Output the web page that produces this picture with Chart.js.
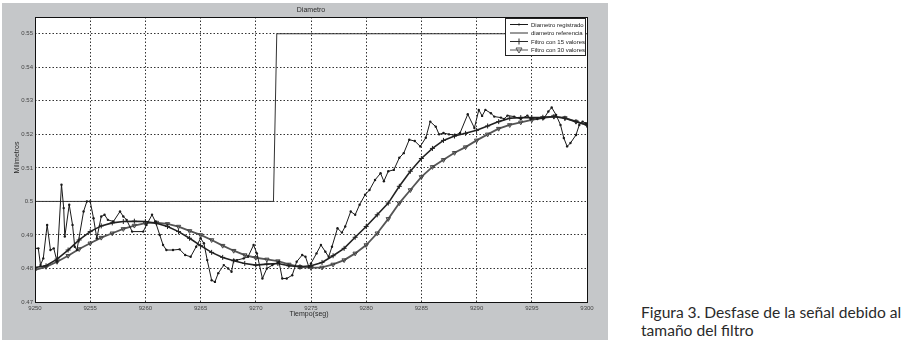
<!DOCTYPE html>
<html>
<head>
<meta charset="utf-8">
<script src="https://cdn.jsdelivr.net/npm/chart.js@4"></script>
<style>
  html, body { margin: 0; padding: 0; background: #fff; }
  #panel { position: absolute; left: 2px; top: 3px; width: 606px; height: 337px; background: #c5c7c9; }
  #caption { position: absolute; left: 641px; top: 303px; font-family: Lato, "Open Sans", sans-serif; font-size: 15.6px; line-height: 18px; color: #2a2a2a; }
</style>
</head>
<body>
<div id="panel"><canvas id="grafico" width="606" height="337"></canvas></div>
<div id="caption">Figura 3. Desfase de la señal debido al<br>tamaño del filtro</div>
<script>
// ✅ datos
const tiempoRegistrado = [
  9250.0, 9250.3, 9250.5, 9250.75, 9251.1, 9251.4, 9251.7, 9252.0, 9252.4, 9252.6,
  9252.7, 9253.1, 9253.4, 9253.6, 9253.8, 9254.4, 9254.7, 9255.0, 9255.3, 9255.6,
  9256.0, 9256.3, 9256.6, 9257.1, 9257.7, 9258.0, 9258.3, 9258.8, 9259.8, 9260.1,
  9260.6, 9260.9, 9261.3, 9261.6, 9261.9, 9262.5, 9263.1, 9263.6, 9264.1, 9264.6,
  9265.0, 9265.3, 9265.6, 9266.0, 9266.3, 9266.6, 9267.1, 9267.5, 9267.8, 9268.0,
  9268.3, 9268.9, 9269.3, 9269.8, 9270.1, 9270.6, 9271.0, 9271.5, 9272.1, 9272.4,
  9272.8, 9273.3, 9273.7, 9274.2, 9274.5, 9274.8, 9275.0, 9275.5, 9275.9, 9276.3,
  9276.6, 9276.9, 9277.4, 9277.8, 9278.1, 9278.6, 9279.0, 9279.4, 9279.9, 9280.3,
  9280.8, 9281.3, 9281.6, 9282.0, 9282.5, 9283.0, 9283.4, 9283.9, 9284.4, 9284.9,
  9285.4, 9285.8, 9286.3, 9286.6, 9287.0, 9287.5, 9288.1, 9288.5, 9289.2, 9289.8,
  9290.2, 9290.5, 9290.8, 9291.3, 9291.6, 9292.2, 9292.5, 9292.8, 9293.4, 9294.0,
  9294.6, 9294.9, 9295.5, 9296.1, 9296.5, 9296.8, 9297.2, 9297.6, 9297.9, 9298.2,
  9298.5, 9299.0, 9299.3, 9299.6, 9299.9, 9300.0
];
const diametroRegistrado = [
  0.4860, 0.4860, 0.4810, 0.4830, 0.4930, 0.4855, 0.4860, 0.4820, 0.5050, 0.4980,
  0.4895, 0.4990, 0.4930, 0.4865, 0.4855, 0.4970, 0.5000, 0.5000, 0.4950, 0.4890,
  0.4955, 0.4960, 0.4945, 0.4940, 0.4970, 0.4955, 0.4945, 0.4910, 0.4910, 0.4930,
  0.4960, 0.4940, 0.4900, 0.4870, 0.4855, 0.4855, 0.4857, 0.4840, 0.4835, 0.4865,
  0.4890, 0.4875, 0.4825, 0.4765, 0.4760, 0.4786, 0.4810, 0.4800, 0.4790, 0.4825,
  0.4825, 0.4830, 0.4835, 0.4870, 0.4845, 0.4770, 0.4800, 0.4810, 0.4820, 0.4770,
  0.4770, 0.4780, 0.4820, 0.4840, 0.4835, 0.4805, 0.4815, 0.4845, 0.4870, 0.4850,
  0.4835, 0.4865, 0.4920, 0.4907, 0.4925, 0.4970, 0.4960, 0.4990, 0.5020, 0.5034,
  0.5064, 0.5084, 0.5060, 0.5090, 0.5094, 0.5130, 0.5144, 0.5184, 0.5180, 0.5164,
  0.5190, 0.5238, 0.5223, 0.5200, 0.5204, 0.5200, 0.5198, 0.5204, 0.5260, 0.5219,
  0.5273, 0.5255, 0.5273, 0.5263, 0.5253, 0.5250, 0.5246, 0.5256, 0.5253, 0.5246,
  0.5256, 0.5246, 0.5246, 0.5248, 0.5268, 0.5280, 0.5258, 0.5228, 0.5189, 0.5164,
  0.5174, 0.5198, 0.5228, 0.5238, 0.5233, 0.5230
];

const tiempoReferencia = [9250, 9271.6, 9271.9, 9300];
const diametroReferencia = [0.50, 0.50, 0.55, 0.55];

const tiempoFiltro = [
  9250, 9251, 9252, 9253, 9254, 9255, 9256, 9257, 9258, 9259,
  9260, 9261, 9262, 9263, 9264, 9265, 9266, 9267, 9268, 9269,
  9270, 9271, 9272, 9273, 9274, 9275, 9276, 9277, 9278, 9279,
  9280, 9281, 9282, 9283, 9284, 9285, 9286, 9287, 9288, 9289,
  9290, 9291, 9292, 9293, 9294, 9295, 9296, 9297, 9298, 9299, 9300
];
const filtro15 = [
  0.4803, 0.4808, 0.4828, 0.4855, 0.4885, 0.4910, 0.4927, 0.4936, 0.4940, 0.4941,
  0.4940, 0.4935, 0.4925, 0.4910, 0.4890, 0.4868, 0.4848, 0.4833, 0.4823, 0.4815,
  0.4810, 0.4813, 0.4815, 0.4808, 0.4805, 0.4808, 0.4818, 0.4838, 0.4860, 0.4893,
  0.4925, 0.4960, 0.4995, 0.5045, 0.5090, 0.5128, 0.5158, 0.5182, 0.5195, 0.5203,
  0.5212, 0.5225, 0.5238, 0.5248, 0.5250, 0.5250, 0.5251, 0.5253, 0.5248, 0.5238, 0.5228
];
const filtro30 = [
  0.4796, 0.4805, 0.4820, 0.4838, 0.4858, 0.4875, 0.4892, 0.4905, 0.4918, 0.4928,
  0.4935, 0.4937, 0.4933, 0.4925, 0.4912, 0.4900, 0.4885, 0.4868, 0.4853, 0.4840,
  0.4832, 0.4827, 0.4822, 0.4812, 0.4805, 0.4802, 0.4803, 0.4812, 0.4825, 0.4845,
  0.4870, 0.4905, 0.4948, 0.4995, 0.5034, 0.5073, 0.5103, 0.5124, 0.5145, 0.5162,
  0.5182, 0.5200, 0.5217, 0.5228, 0.5236, 0.5243, 0.5249, 0.5253, 0.5249, 0.5238, 0.5228
];

const ticksX = [9250, 9255, 9260, 9265, 9270, 9275, 9280, 9285, 9290, 9295, 9300];
const ticksY = [0.47, 0.48, 0.49, 0.50, 0.51, 0.52, 0.53, 0.54, 0.55];
const nombres = ["Diametro registrado", "diametro referencia", "Filtro con 15 valores", "Filtro con 30 valores"];

const puntos = (xs, ys) => xs.map((x, i) => ({ x: x, y: ys[i] }));

// ✅ dibujar un marcador pequeño (para la leyenda)
function marcador(ctx, tipo, x, y, color) {
  ctx.save();
  ctx.strokeStyle = color;
  ctx.fillStyle = color;
  ctx.lineWidth = 1;
  ctx.beginPath();
  if (tipo === "dot") {
    ctx.arc(x, y, 1, 0, Math.PI * 2);
    ctx.fill();
  } else if (tipo === "cross") {
    ctx.moveTo(x - 3, y); ctx.lineTo(x + 3, y);
    ctx.moveTo(x, y - 3); ctx.lineTo(x, y + 3);
    ctx.stroke();
  } else if (tipo === "tri") {
    ctx.moveTo(x - 3, y - 2); ctx.lineTo(x + 3, y - 2); ctx.lineTo(x, y + 3);
    ctx.closePath();
    ctx.stroke();
  }
  ctx.restore();
}

// ✅ fondo blanco, marco, títulos y leyenda
const adornos = {
  id: "adornos",
  beforeDraw(chart) {
    const { ctx, chartArea: a } = chart;
    ctx.save();
    ctx.fillStyle = "#fff";
    ctx.fillRect(a.left, a.top, a.right - a.left, a.bottom - a.top);
    ctx.restore();
  },
  afterDatasetsDraw(chart) {
    const { ctx, chartArea: a } = chart;
    ctx.save();
    ctx.strokeStyle = "#111";
    ctx.lineWidth = 1;
    ctx.strokeRect(a.left + 0.5, a.top + 0.5, a.right - a.left, a.bottom - a.top);
    ctx.restore();
  },
  afterDraw(chart) {
    const { ctx, chartArea: a } = chart;
    ctx.save();
    ctx.fillStyle = "#2a2a2a";
    ctx.font = "7px 'Liberation Sans', Arial, sans-serif";
    ctx.textAlign = "center";
    ctx.textBaseline = "middle";
    ctx.fillText("Diametro", (a.left + a.right) / 2, 7);
    ctx.fillText("Tiempo(seg)", (a.left + a.right) / 2 - 2, a.bottom + 12);
    ctx.save();
    ctx.translate(15, (a.top + a.bottom) / 2 - 2);
    ctx.rotate(-Math.PI / 2);
    ctx.fillText("Milimetros", 0, 0);
    ctx.restore();

    // leyenda
    const bx = a.right - 82, by = a.top + 1, bw = 80, bh = 37;
    ctx.fillStyle = "#fff";
    ctx.fillRect(bx, by, bw, bh);
    ctx.strokeStyle = "#222";
    ctx.lineWidth = 1;
    ctx.strokeRect(bx + 0.5, by + 0.5, bw, bh);
    const tipos = ["dot", null, "cross", "tri"];
    const colores = ["#1a1a1a", "#333", "#2a2a2a", "#555"];
    ctx.font = "6px 'Liberation Sans', Arial, sans-serif";
    ctx.textAlign = "left";
    nombres.forEach((n, i) => {
      const y = by + 6.5 + i * 8.5;
      ctx.strokeStyle = colores[i];
      ctx.beginPath();
      ctx.moveTo(bx + 5, y);
      ctx.lineTo(bx + 23, y);
      ctx.stroke();
      if (tipos[i]) marcador(ctx, tipos[i], bx + 14, y, colores[i]);
      ctx.fillStyle = "#222";
      ctx.fillText(n, bx + 26, y + 0.5);
    });
    ctx.restore();
  }
};

const ctx = document.getElementById("grafico").getContext("2d");
new Chart(ctx, {
  type: "line",
  data: {
    datasets: [
      {
        label: nombres[0],
        data: puntos(tiempoRegistrado, diametroRegistrado),
        borderColor: "#1a1a1a",
        borderWidth: 1,
        pointRadius: 1.2,
        pointStyle: "circle",
        pointBackgroundColor: "#1a1a1a",
        pointBorderWidth: 0
      },
      {
        label: nombres[1],
        data: puntos(tiempoReferencia, diametroReferencia),
        borderColor: "#333",
        borderWidth: 1,
        pointRadius: 0
      },
      {
        label: nombres[2],
        data: puntos(tiempoFiltro, filtro15),
        borderColor: "#222",
        borderWidth: 1.6,
        pointStyle: "cross",
        pointRadius: 2.5,
        pointBorderColor: "#222",
        pointBorderWidth: 1
      },
      {
        label: nombres[3],
        data: puntos(tiempoFiltro, filtro30),
        borderColor: "#555",
        borderWidth: 1.8,
        pointStyle: "triangle",
        rotation: 180,
        pointRadius: 2.5,
        pointBackgroundColor: "rgba(255,255,255,0)",
        pointBorderColor: "#444",
        pointBorderWidth: 1
      }
    ]
  },
  options: {
    responsive: false,
    animation: false,
    layout: { padding: { top: 14, right: 21, bottom: 0, left: 0 } },
    plugins: { legend: { display: false }, tooltip: { enabled: false } },
    scales: {
      x: {
        type: "linear",
        min: 9250,
        max: 9300,
        afterFit: s => { s.height = 38; },
        afterBuildTicks: s => { s.ticks = ticksX.map(v => ({ value: v })); },
        grid: { color: "#333", lineWidth: 1, drawTicks: false },
        border: { display: false, dash: [1.5, 2] },
        ticks: {
          padding: 3,
          maxRotation: 0,
          autoSkip: false,
          color: "#444",
          font: { family: "'Liberation Sans', Arial, sans-serif", size: 6 },
          callback: v => String(v)
        }
      },
      y: {
        min: 0.47,
        max: 0.555,
        afterFit: s => { s.width = 33; },
        afterBuildTicks: s => { s.ticks = ticksY.map(v => ({ value: v })); },
        grid: { color: "#333", lineWidth: 1, drawTicks: false },
        border: { display: false, dash: [1.5, 2] },
        ticks: {
          padding: 2,
          autoSkip: false,
          color: "#444",
          font: { family: "'Liberation Sans', Arial, sans-serif", size: 6 },
          callback: v => String(Math.round(v * 100) / 100)
        }
      }
    }
  },
  plugins: [adornos]
});
</script>
</body>
</html>
